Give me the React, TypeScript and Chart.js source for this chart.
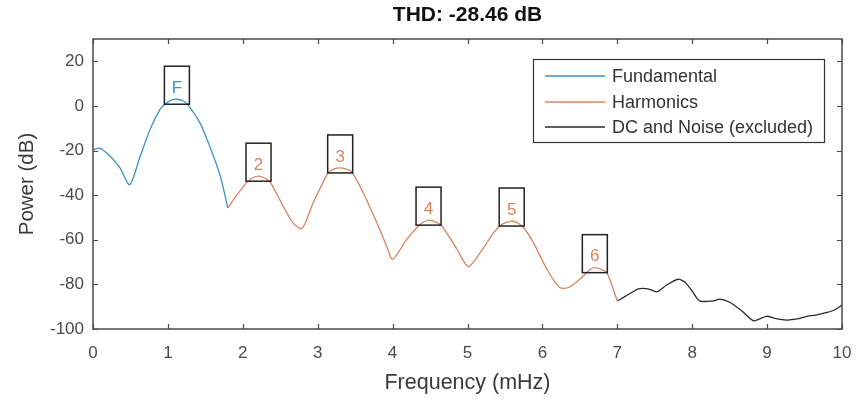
import React, { useEffect, useRef } from "react";
import { Chart, registerables } from "chart.js";

Chart.register(...registerables);

const fundamentalFreq = [0, 0.09, 0.23, 0.36, 0.49, 0.63, 0.76, 0.89, 0.96, 1.04, 1.12, 1.2, 1.27, 1.43, 1.56, 1.7, 1.8];
const fundamentalPower = [-19.8, -18.9, -22.6, -27.8, -35.3, -22.6, -10.7, -1.8, 0.8, 2.5, 3.0, 2.3, 0.4, -7.7, -18.2, -31.5, -45.7];

const harmonicFreq = [1.8, 1.92, 2.05, 2.13, 2.21, 2.29, 2.36, 2.54, 2.67, 2.79, 2.94, 3.14, 3.22, 3.3, 3.38, 3.45, 3.61, 3.79, 3.92, 4.0, 4.19, 4.37, 4.48, 4.57, 4.66, 4.86, 5.01, 5.17, 5.35, 5.46, 5.59, 5.67, 5.75, 5.88, 6.06, 6.23, 6.35, 6.5, 6.64, 6.7, 6.78, 6.86, 7.0];
const harmonicPower = [-45.7, -40, -34.5, -32.2, -31.5, -32.3, -33.8, -45, -52.4, -55, -43.4, -30, -28.2, -27.8, -28.3, -29.3, -39, -52.4, -62.8, -68.8, -59.8, -53, -51.2, -52, -53.9, -64.3, -72, -65.8, -56.8, -53.1, -51.6, -52.5, -54.6, -61.3, -73.2, -81.4, -81.4, -77.7, -73.2, -72.5, -73.2, -74.7, -87.4];

const noiseFreq = [7.0, 7.1, 7.2, 7.28, 7.41, 7.53, 7.65, 7.81, 7.9, 8.0, 8.1, 8.28, 8.37, 8.5, 8.66, 8.82, 8.99, 9.1, 9.26, 9.4, 9.53, 9.65, 9.8, 9.9, 10.0];
const noisePower = [-87.4, -85.5, -83.5, -82, -82, -83.3, -80.5, -77.7, -78.9, -83, -87.4, -87.4, -86.6, -88, -91.8, -96.3, -94.3, -95.2, -96, -95.5, -94.3, -93.8, -92.6, -91.5, -89.3];

const peakLabels = ["F", "2", "3", "4", "5", "6"];
const peakFreq = [1.12, 2.21, 3.3, 4.48, 5.59, 6.7];
const peakPower = [3.0, -31.5, -27.8, -51.2, -51.6, -72.5];

const xTicks = [0, 1, 2, 3, 4, 5, 6, 7, 8, 9, 10];
const yTicks = [-100, -80, -60, -40, -20, 0, 20];

const seriesNames = ["Fundamental", "Harmonics", "DC and Noise (excluded)"];
const titleText = "THD: -28.46 dB";

const BLUE = "#3e93c6";
const ORANGE = "#d8845f";
const BLACK = "#2a2a2a";
const AXIS = "#4a4a4a";
const FONT = "'Liberation Sans', Arial, Helvetica, sans-serif";

const toPoints = (xs: number[], ys: number[]) => xs.map((x, i) => ({ x, y: ys[i] }));

const decorPlugin = {
  id: "decor",
  afterDatasetsDraw(chart: any) {
    const { ctx, chartArea, scales } = chart;
    const { left, right, top, bottom } = chartArea;
    const xs = scales.x;
    const ys = scales.y;
    ctx.save();
    ctx.strokeStyle = AXIS;
    ctx.lineWidth = 1.5;
    ctx.strokeRect(left, top, right - left, bottom - top);
    ctx.lineWidth = 1.2;
    const tl = 5;
    xTicks.forEach((v) => {
      const px = Math.round(xs.getPixelForValue(v)) + 0.5;
      ctx.beginPath();
      ctx.moveTo(px, bottom);
      ctx.lineTo(px, bottom - tl);
      ctx.moveTo(px, top);
      ctx.lineTo(px, top + tl);
      ctx.stroke();
    });
    yTicks.forEach((v) => {
      const py = Math.round(ys.getPixelForValue(v)) + 0.5;
      ctx.beginPath();
      ctx.moveTo(left, py);
      ctx.lineTo(left + tl, py);
      ctx.moveTo(right, py);
      ctx.lineTo(right - tl, py);
      ctx.stroke();
    });
    peakLabels.forEach((lab, i) => {
      const px = xs.getPixelForValue(peakFreq[i]);
      const py = ys.getPixelForValue(peakPower[i]);
      const bx = px - 12.5;
      const by = py - 33;
      ctx.strokeStyle = "#222";
      ctx.lineWidth = 1.5;
      ctx.strokeRect(bx, by, 25, 38);
      ctx.fillStyle = i === 0 ? BLUE : ORANGE;
      ctx.font = `17px ${FONT}`;
      ctx.textAlign = "center";
      ctx.textBaseline = "middle";
      ctx.fillText(lab, px, by + 22);
    });
    const lx = 533, ly = 59, lw = 291, lh = 83;
    ctx.fillStyle = "#fff";
    ctx.fillRect(lx, ly, lw, lh);
    ctx.strokeStyle = "#333";
    ctx.lineWidth = 1.2;
    ctx.strokeRect(lx + 0.5, ly + 0.5, lw, lh);
    const rows = [76, 102, 127];
    const cols = [BLUE, ORANGE, BLACK];
    seriesNames.forEach((name, i) => {
      ctx.strokeStyle = cols[i];
      ctx.lineWidth = 1.5;
      ctx.beginPath();
      ctx.moveTo(545, rows[i]);
      ctx.lineTo(605, rows[i]);
      ctx.stroke();
      ctx.fillStyle = "#333";
      ctx.font = `18px ${FONT}`;
      ctx.textAlign = "left";
      ctx.textBaseline = "middle";
      ctx.fillText(name, 612, rows[i] + 1);
    });
    ctx.fillStyle = "#111";
    ctx.font = `bold 21px ${FONT}`;
    ctx.textAlign = "center";
    ctx.textBaseline = "middle";
    ctx.fillText(titleText, (left + right) / 2, 15);
    ctx.restore();
  },
};

export default function App() {
  const ref = useRef<HTMLCanvasElement | null>(null);
  useEffect(() => {
    document.body.style.margin = "0";
    const canvas = ref.current;
    if (!canvas) return;
    const common = { borderWidth: 1.3, pointRadius: 0, tension: 0.25, fill: false };
    const chart = new Chart(canvas, {
      type: "line",
      data: {
        datasets: [
          { label: seriesNames[0], data: toPoints(fundamentalFreq, fundamentalPower), borderColor: BLUE, ...common },
          { label: seriesNames[1], data: toPoints(harmonicFreq, harmonicPower), borderColor: ORANGE, ...common },
          { label: seriesNames[2], data: toPoints(noiseFreq, noisePower), borderColor: BLACK, ...common },
        ],
      },
      options: {
        responsive: false,
        animation: false,
        layout: { padding: { left: 0, right: 15, top: 39, bottom: 0 } },
        plugins: { legend: { display: false }, title: { display: false }, tooltip: { enabled: false } },
        scales: {
          x: {
            type: "linear",
            min: 0,
            max: 10,
            afterFit: (s: any) => { s.height = 71; s.paddingLeft = 0; s.paddingRight = 0; },
            afterBuildTicks: (s: any) => { s.ticks = xTicks.map((v) => ({ value: v })); },
            grid: { display: false, drawTicks: false },
            border: { display: false },
            ticks: { color: AXIS, font: { family: FONT, size: 17 }, padding: 14, maxRotation: 0, autoSkip: false },
            title: { display: true, text: "Frequency (mHz)", color: "#3a3a3a", font: { family: FONT, size: 21.5 }, padding: { top: 0, bottom: 4 } },
          },
          y: {
            type: "linear",
            min: -100,
            max: 30,
            afterFit: (s: any) => { s.width = 93; s.paddingTop = 0; s.paddingBottom = 0; },
            afterBuildTicks: (s: any) => { s.ticks = yTicks.map((v) => ({ value: v })); },
            grid: { display: false, drawTicks: false },
            border: { display: false },
            ticks: { color: AXIS, font: { family: FONT, size: 17 }, padding: 9 },
            title: { display: true, text: "Power (dB)", color: "#3a3a3a", font: { family: FONT, size: 20.5 }, padding: { top: 15, bottom: 0 } },
          },
        },
      },
      plugins: [decorPlugin],
    } as any);
    return () => chart.destroy();
  }, []);
  return (
    <div style={{ position: "absolute", left: 0, top: 0, width: 857, height: 400, background: "#fff" }}>
      <canvas ref={ref} width={857} height={400} style={{ display: "block" }} />
    </div>
  );
}
